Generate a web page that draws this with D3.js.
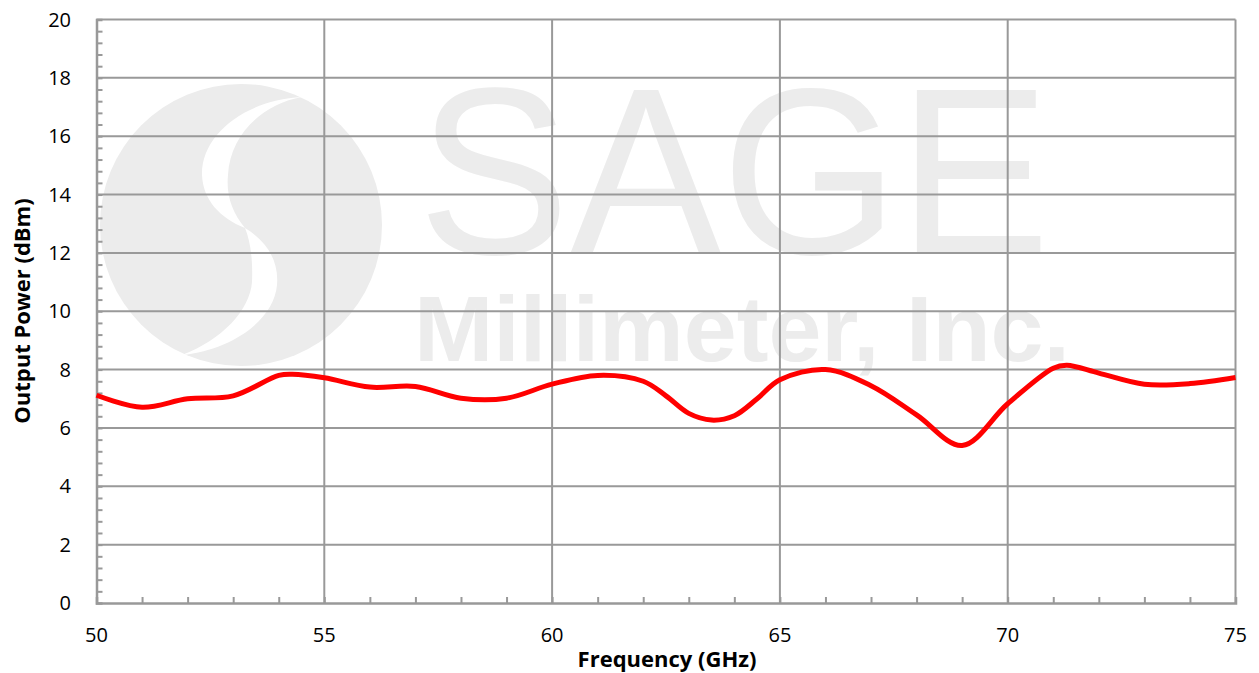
<!DOCTYPE html>
<html>
<head>
<meta charset="utf-8">
<script src="https://cdn.jsdelivr.net/npm/d3@7"></script>
<style>
  body { margin: 0; background: #fff; }
  svg { display: block; }
</style>
</head>
<body>
<svg width="1259" height="673"></svg>
<script>
const freq = [50, 51, 52, 53, 54, 54.3, 55, 56, 57, 58, 59, 60, 61, 62, 62.5, 63, 63.5, 64, 64.5, 65, 66, 67, 68, 69, 70, 71, 71.3, 72, 73, 74, 75];
const power = [7.12, 6.71, 7.0, 7.1, 7.8, 7.84, 7.72, 7.4, 7.42, 7.02, 7.02, 7.5, 7.8, 7.6, 7.1, 6.5, 6.27, 6.42, 7.0, 7.65, 8.0, 7.45, 6.45, 5.4, 6.83, 8.05, 8.15, 7.88, 7.5, 7.52, 7.73];
const xTicks = [50, 55, 60, 65, 70, 75];
const yTicks = [0, 2, 4, 6, 8, 10, 12, 14, 16, 18, 20];

const svg = d3.select("svg");
const mLeft = 96.5, mRight = 1235.5, mTop = 19.5, mBottom = 603;

const x = d3.scaleLinear().domain([50, 75]).range([mLeft, mRight]);
const y = d3.scaleLinear().domain([0, 20]).range([mBottom, mTop]);

// watermark logo + name
const wm = svg.append("g").attr("fill", "#ececec");
wm.append("circle").attr("cx", 241).attr("cy", 225).attr("r", 141);
const logoCut = svg.append("g").attr("fill", "#fff");
logoCut.append("path")
  .attr("d", "M302,97 C245,100 201,135 202,175 C203,200 220,218 245,228 C232,212 226,195 228,175 C230,135 262,104 302,97 Z");
logoCut.append("path")
  .attr("d", "M245,228 C268,242 279,262 277,285 C274,320 232,350 182,355 C222,340 250,310 252,282 C253,258 250,240 245,228 Z");
wm.append("text").attr("x", 418).attr("y", 254)
  .attr("font-family", "Liberation Sans").attr("font-size", 238)
  .attr("textLength", 632).attr("lengthAdjust", "spacingAndGlyphs").text("SAGE");
wm.append("text").attr("x", 414).attr("y", 361)
  .attr("font-family", "Liberation Sans").attr("font-weight", 700).attr("font-size", 92)
  .attr("textLength", 656).attr("lengthAdjust", "spacingAndGlyphs").text("Millimeter, Inc.");

// grid
const grid = svg.append("g").attr("stroke", "#999").attr("stroke-width", 2);
grid.selectAll(".gx").data(xTicks.slice(1)).join("line")
  .attr("x1", d => x(d)).attr("x2", d => x(d)).attr("y1", mTop).attr("y2", mBottom);
grid.selectAll(".gy").data(yTicks.slice(1)).join("line")
  .attr("x1", mLeft).attr("x2", mRight).attr("y1", d => y(d)).attr("y2", d => y(d));

// axes with minor ticks
const xAxis = d3.axisBottom(x).tickValues(d3.range(51, 75, 1)).tickSize(-6).tickFormat("");
const xg = svg.append("g").attr("transform", `translate(0,${mBottom})`).call(xAxis);
const yAxis = d3.axisLeft(y).tickValues(d3.range(0.4, 20, 0.4)).tickSize(-6).tickFormat("");
const yg = svg.append("g").attr("transform", `translate(${mLeft},0)`).call(yAxis);
[xg, yg].forEach(g => {
  g.select(".domain").attr("stroke", "#999").attr("stroke-width", 2.5);
  g.selectAll(".tick line").attr("stroke", "#999").attr("stroke-width", 2);
});

// tick labels
svg.append("g").selectAll("text").data(xTicks).join("text")
  .attr("x", d => x(d)).attr("y", 642).attr("text-anchor", "middle")
  .attr("font-family", "Open Sans").attr("font-size", 20).attr("fill", "#000")
  .text(d => d);
svg.append("g").selectAll("text").data(yTicks).join("text")
  .attr("x", 71).attr("y", d => y(d) + 7).attr("text-anchor", "end")
  .attr("font-family", "Open Sans").attr("font-size", 20).attr("fill", "#000")
  .text(d => d);

// axis titles
svg.append("text").attr("x", 667).attr("y", 667).attr("text-anchor", "middle")
  .attr("font-family", "Open Sans").attr("font-weight", 700).attr("font-size", 22)
  .text("Frequency (GHz)");
svg.append("text").attr("transform", "translate(30,311) rotate(-90)").attr("text-anchor", "middle")
  .attr("font-family", "Open Sans").attr("font-weight", 700).attr("font-size", 22)
  .text("Output Power (dBm)");

// line
const line = d3.line().x((d, i) => x(freq[i])).y(d => y(d)).curve(d3.curveCatmullRom.alpha(0.5));
svg.append("path").datum(power).attr("d", line)
  .attr("fill", "none").attr("stroke", "#ff0000").attr("stroke-width", 5).attr("stroke-linejoin", "round");
</script>
</body>
</html>
